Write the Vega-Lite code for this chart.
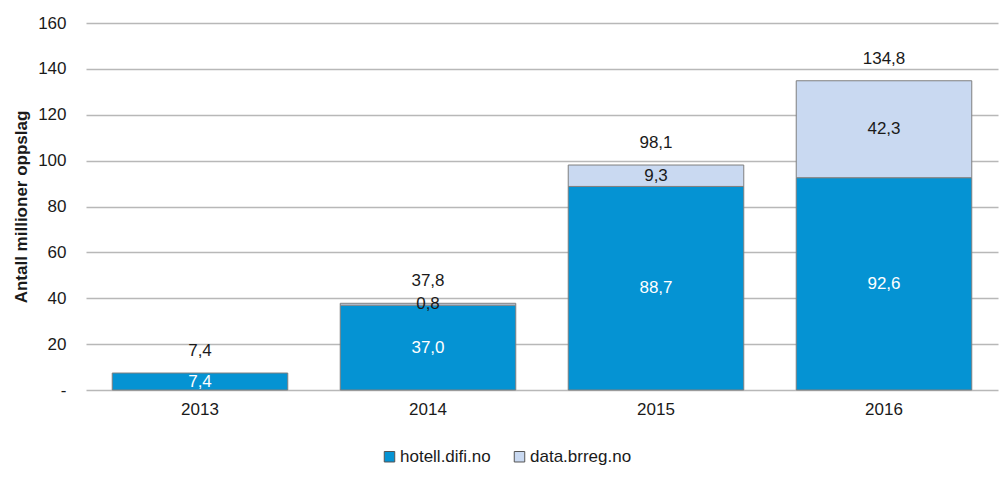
{
  "$schema": "https://vega.github.io/schema/vega-lite/v6.json",
  "width": 912,
  "height": 367,
  "autosize": {"type": "none"},
  "padding": {"left": 86, "top": 23, "right": 2, "bottom": 92},
  "background": "white",
  "config": {
    "locale": {"number": {"decimal": ",", "thousands": " ", "grouping": [3], "currency": ["", " kr"]}},
    "font": "Liberation Sans",
    "view": {"stroke": null}
  },
  "data": {
    "values": [
      {"year": "2013", "source": "hotell.difi.no", "value": 7.4},
      {"year": "2014", "source": "hotell.difi.no", "value": 37.0},
      {"year": "2014", "source": "data.brreg.no", "value": 0.8},
      {"year": "2015", "source": "hotell.difi.no", "value": 88.74},
      {"year": "2015", "source": "data.brreg.no", "value": 9.34},
      {"year": "2016", "source": "hotell.difi.no", "value": 92.56},
      {"year": "2016", "source": "data.brreg.no", "value": 42.26}
    ]
  },
  "encoding": {
    "x": {
      "field": "year", "type": "nominal",
      "scale": {"paddingInner": 0.23, "paddingOuter": 0.115},
      "axis": {"title": null, "labelAngle": 0, "domain": false, "ticks": false, "labelPadding": 11, "labelFontSize": 17, "labelColor": "#1a1a1a"}
    }
  },
  "layer": [
    {
      "mark": {"type": "bar", "stroke": "#7f7f7f", "strokeWidth": 1},
      "encoding": {
        "y": {
          "field": "value", "type": "quantitative", "stack": "zero",
          "scale": {"domain": [0, 160]},
          "axis": {
            "title": "Antall millioner oppslag", "titleFontSize": 17, "titleFontWeight": "bold", "titleColor": "#1a1a1a", "titlePadding": 7,
            "values": [0, 20, 40, 60, 80, 100, 120, 140, 160],
            "labelExpr": "datum.value == 0 ? '-' : datum.label",
            "format": "d",
            "labelFontSize": 17, "labelColor": "#1a1a1a", "labelPadding": 20,
            "domain": false, "ticks": false,
            "grid": true, "gridColor": "#b8b8b8", "gridWidth": 1.3
          }
        },
        "color": {
          "field": "source", "type": "nominal",
          "scale": {"domain": ["hotell.difi.no", "data.brreg.no"], "range": ["#0593D3", "#C9D9F1"]},
          "legend": {
            "title": null, "orient": "none", "legendX": 295, "legendY": 425, "direction": "horizontal",
            "symbolType": "square", "symbolSize": 110, "symbolStrokeColor": "#555555", "symbolStrokeWidth": 1,
            "labelFontSize": 17, "labelColor": "#1a1a1a", "labelOffset": 2, "columnPadding": 20
          }
        },
        "order": {"field": "source", "sort": "descending"}
      }
    },
    {
      "mark": {"type": "text", "fontSize": 17, "baseline": "middle"},
      "encoding": {
        "y": {"field": "value", "type": "quantitative", "stack": "zero", "bandPosition": 0.5},
        "detail": {"field": "source"},
        "order": {"field": "source", "sort": "descending"},
        "text": {"field": "value", "type": "quantitative", "format": ".1f"},
        "color": {"condition": {"test": "datum.source === 'hotell.difi.no'", "value": "white"}, "value": "#1a1a1a"}
      }
    },
    {
      "mark": {"type": "text", "fontSize": 17, "baseline": "middle", "dy": -22, "color": "#1a1a1a"},
      "encoding": {
        "y": {"aggregate": "sum", "field": "value", "type": "quantitative"},
        "text": {"aggregate": "sum", "field": "value", "type": "quantitative", "format": ".1f"}
      }
    }
  ]
}
